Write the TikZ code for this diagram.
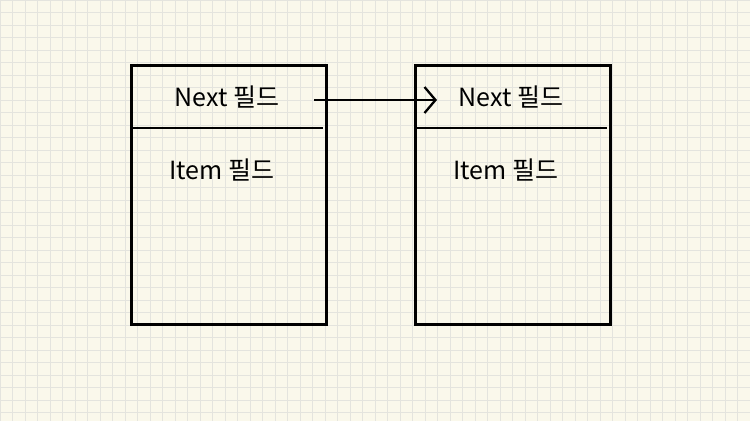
\documentclass[tikz,border=0pt]{standalone}
\usepackage{fontspec}
\setmainfont{Noto Sans CJK KR}
\usetikzlibrary{arrows.meta}
\definecolor{paper}{RGB}{250,248,235}
\definecolor{gridc}{RGB}{228,228,222}
\tikzset{
  boxline/.style={line width=2.6pt, black},
  label/.style={font=\fontsize{25}{29}\selectfont, inner sep=0pt, anchor=center},
  linkarrow/.style={line width=2.3pt, -{Straight Barb[length=11pt,width=26pt,line width=2.3pt]}}
}
\begin{document}
\begin{tikzpicture}[x=1pt,y=-1pt]
\fill[paper] (0,0) rectangle (750,421);
\useasboundingbox (0,0) rectangle (750,421);
\foreach \i in {0,...,60} {\draw[gridc, line width=0.8pt] (\i*12.5,0) -- (\i*12.5,421);}
\foreach \j in {0,...,33} {\draw[gridc, line width=0.8pt] (0,\j*12.5) -- (750,\j*12.5);}
% box 1
\node[boxline, draw, minimum width=195pt, minimum height=259pt, inner sep=0pt, anchor=north west] (box1) at (130,64) {};
\coordinate (d1l) at (133,128);
\coordinate (d1r) at (323,128);
\draw[boxline] (d1l) -- (d1r);
\node[label] (next1) at (227,97) {Next 필드};
\node[label] (item1) at (222,170) {Item 필드};
% box 2
\node[boxline, draw, minimum width=195pt, minimum height=259pt, inner sep=0pt, anchor=north west] (box2) at (414,64) {};
\coordinate (d2l) at (417,128);
\coordinate (d2r) at (607,128);
\draw[boxline] (d2l) -- (d2r);
\node[label] (next2) at (511,97) {Next 필드};
\node[label] (item2) at (506,170) {Item 필드};
% link
\coordinate (ptrstart) at (314,100);
\coordinate (ptrend) at (437,100);
\draw[linkarrow] (ptrstart) -- (ptrend);
\end{tikzpicture}
\end{document}
